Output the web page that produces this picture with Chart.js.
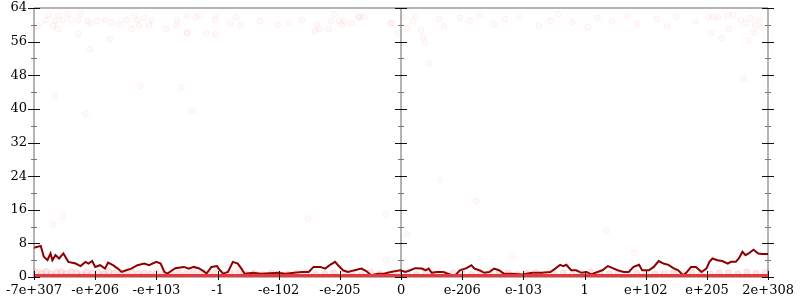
<!DOCTYPE html>
<html>
<head>
<meta charset="utf-8">
<script src="https://cdn.jsdelivr.net/npm/chart.js@4/dist/chart.umd.min.js"></script>
<style>
  html, body { margin: 0; padding: 0; background: #fff; }
</style>
</head>
<body>
<canvas id="chart" width="800" height="300"></canvas>
<script>
// x axis positions are tick slots 0..12, labelled with these
var xTickLabels = ['-7e+307', '-e+206', '-e+103', '-1', '-e-102', '-e-205', '0',
                   'e-206', 'e-103', '1', 'e+102', 'e+205', '2e+308']

// rolling line (dark red)
var lineX = [0,0.11,0.16,0.22,0.27,0.30,0.35,0.41,0.48,0.56,
  0.68,0.76,0.84,0.89,0.95,1.0,1.08,1.16,1.21,1.29,
  1.37,1.43,1.51,1.59,1.69,1.80,1.88,2.0,2.07,2.13,
  2.18,2.26,2.31,2.45,2.53,2.61,2.69,2.77,2.82,2.90,
  2.99,3.04,3.09,3.17,3.25,3.33,3.39,3.44,3.58,3.71,
  3.85,3.98,4.11,4.25,4.38,4.49,4.57,4.68,4.76,4.84,
  4.92,4.97,5.05,5.13,5.24,5.35,5.43,5.51,5.62,5.72,
  5.83,5.99,6.07,6.15,6.23,6.34,6.40,6.45,6.50,6.58,
  6.69,6.80,6.88,6.96,7.07,7.15,7.20,7.28,7.36,7.44,
  7.52,7.60,7.68,7.82,7.98,8.14,8.30,8.44,8.52,8.60,
  8.65,8.70,8.78,8.86,8.95,9.03,9.11,9.21,9.29,9.38,
  9.46,9.54,9.64,9.72,9.80,9.89,9.94,10.05,10.13,10.21,
  10.29,10.37,10.45,10.53,10.61,10.66,10.74,10.82,10.91,10.99,
  11.04,11.09,11.17,11.25,11.34,11.39,11.47,11.52,11.58,11.63,
  11.68,11.76,11.84,11.90,12.0]
var lineY = [6.95,7.4,4.8,4.0,5.6,4.0,5.2,4.4,5.6,3.6,
  3.2,2.6,3.6,3.2,3.8,2.4,2.8,2.0,3.4,2.8,
  2.0,1.2,1.6,2.0,2.8,3.2,2.8,3.6,3.2,1.2,
  0.8,1.6,2.1,2.4,2.0,2.4,2.1,1.4,0.8,2.4,
  2.6,1.6,0.8,1.2,3.6,3.2,2.0,0.8,1.0,0.8,
  0.9,1.0,0.8,1.0,1.2,1.2,2.4,2.4,2.0,2.9,
  3.6,2.8,1.6,1.2,1.6,2.0,1.4,0.4,0.8,0.8,
  1.2,1.6,1.2,1.6,2.1,2.0,1.6,2.0,1.0,1.2,
  1.2,0.6,0.3,1.6,2.1,2.8,2.0,1.6,1.0,1.2,
  2.0,1.6,0.8,0.8,0.6,1.0,1.0,1.2,2.0,2.9,
  2.6,2.9,1.6,1.6,1.0,1.2,0.6,1.2,1.6,2.6,
  2.1,1.6,1.2,1.2,2.4,2.9,1.6,1.6,2.4,3.8,
  3.2,2.9,2.1,1.6,0.4,1.0,2.4,2.4,1.2,2.0,
  3.6,4.4,4.0,3.8,3.2,3.6,3.6,4.4,6.0,5.2,
  5.6,6.5,5.6,5.5,5.5]

// faint points near the top
var topX = [0.24,0.40,0.55,0.19,0.35,0.47,0.60,0.72,0.76,0.87,1.03,0.92,1.16,1.27,1.40,1.51,1.64,1.69,1.80,1.93,
  1.88,1.72,1.59,0.31,0.39,0.72,1.24,0.06,2.34,2.50,2.64,2.71,2.98,2.96,3.30,3.21,3.37,3.69,3.98,4.17,
  4.38,4.62,4.66,4.59,4.82,4.86,4.91,4.99,5.07,5.19,5.32,5.40,5.83,2.50,2.82,2.96,2.16,2.32,5.03,2.50,
  5.30,5.85,6.04,6.23,6.19,6.10,5.96,6.33,6.36,6.39,6.62,6.70,
  6.96,7.12,7.28,7.52,7.70,7.93,8.25,8.45,8.57,8.80,9.05,9.21,9.45,9.70,9.86,10.18,10.35,10.50,10.82,
  11.02,11.10,11.18,11.34,11.42,11.55,11.63,11.71,11.79,11.87,11.90,11.07,11.24,11.36,11.68,11.76]
var topY = [62.3,62.3,62.6,61.1,60.9,61.1,61.1,61.1,62.6,60.9,60.9,60.4,61.1,60.6,60.2,61.1,62.3,61.1,61.6,61.1,
  59.9,59.9,59.0,59.7,59.0,57.8,56.6,59.7,61.1,62.1,61.8,62.3,62.3,61.1,61.8,60.4,59.9,60.9,59.9,60.4,
  61.1,60.2,59.0,58.5,59.0,60.9,62.6,60.9,60.9,60.4,61.8,61.8,60.4,58.0,58.0,57.8,59.0,59.9,59.9,58.2,
  61.8,60.4,61.8,62.3,60.9,59.0,58.0,58.7,57.0,55.8,61.4,59.7,
  61.6,61.0,62.4,60.2,61.4,62.0,59.8,61.0,62.6,60.6,59.4,61.6,60.8,62.2,60.2,61.4,59.6,62.0,60.8,
  61.8,61.8,61.8,62.3,62.3,61.1,60.4,61.6,59.9,61.1,59.4,58.0,56.8,59.0,56.3,58.2]

// scattered points in the middle
var midX = [0.92,0.34,1.74,2.40,0.84,2.58,0.31,0.47,4.48,5.75,5.75,7.23,6.10,7.81,9.36,9.81,6.46,11.60,6.64]
var midY = [54.2,43.1,45.5,45.1,38.8,39.5,12.5,14.4,13.9,14.9,4.1,18.0,10.1,4.8,11.0,5.8,50.8,47.2,23.2]

// dense band of points just above zero
var lowX = [0.03,0.12,0.2,0.28,0.37,0.45,0.52,0.61,0.7,0.78,0.86,0.95,1.05,1.14,1.22,1.31,1.42,1.5,1.6,1.7,
  1.8,1.9,2.0,2.12,2.25,2.36,2.48,2.6,2.72,2.85,2.97,3.1,3.22,3.35,3.48,3.6,3.74,3.88,4.0,4.15,
  4.3,4.45,4.6,4.75,4.9,5.05,5.2,5.35,5.5,5.65,5.8,5.95,6.1,6.25,6.4,6.55,6.7,6.85,7.0,7.15,
  7.3,7.45,7.6,7.75,7.9,8.05,8.2,8.35,8.5,8.65,8.8,8.95,9.1,9.25,9.4,9.55,9.7,9.85,10.0,10.15,
  10.3,10.45,10.6,10.75,10.9,11.05,11.2,11.35,11.5,11.65,11.8,11.95]
var lowY = [1.2,0.9,1.3,0.7,1.1,1.2,0.8,1.3,1.0,0.6,1.2,0.9,1.1,0.7,1.3,0.9,1.0,0.6,1.2,0.8,
  1.0,0.7,1.1,0.9,0.6,1.0,0.8,1.2,0.7,0.9,1.0,0.6,0.8,1.1,0.7,0.9,0.6,1.0,0.8,0.7,
  0.9,1.1,0.6,0.8,1.0,0.7,0.9,0.6,1.1,0.8,0.7,1.0,0.9,0.6,1.2,0.8,0.7,1.0,0.9,0.6,
  1.1,0.8,0.7,1.0,0.6,0.9,1.1,0.7,0.8,1.0,0.6,0.9,1.2,0.7,0.8,1.0,0.6,0.9,1.1,0.7,
  0.8,1.0,0.6,1.2,0.9,0.7,1.0,1.1,0.8,1.2,0.9,1.1]

var zeroLevel = 0
var serif = { family: 'DejaVu Serif', size: 13 }

function pairs(xs, ys) {
  return xs.map(function (x, i) { return { x: x, y: ys[i] } })
}

// axis lines, crossing ticks, middle axis at the "0" slot
var framePlugin = {
  id: 'frame',
  beforeDatasetsDraw: function (chart) {
    var ctx = chart.ctx, a = chart.chartArea
    var xs = chart.scales.x
    ctx.save()
    ctx.strokeStyle = '#b4b4b4'
    ctx.lineWidth = 2
    ctx.beginPath()
    ctx.moveTo(a.left, a.top); ctx.lineTo(a.right, a.top)
    ctx.moveTo(a.left, a.bottom); ctx.lineTo(a.right, a.bottom)
    ;[0, 6, 12].forEach(function (v) {
      var px = Math.round(xs.getPixelForValue(v))
      ctx.moveTo(px, a.top); ctx.lineTo(px, a.bottom)
    })
    ctx.stroke()
    ctx.restore()
  },
  afterDatasetsDraw: function (chart) {
    var ctx = chart.ctx, a = chart.chartArea
    var xs = chart.scales.x, ys = chart.scales.y
    ctx.save()
    ;[0, 6, 12].forEach(function (v) {
      var px = Math.round(xs.getPixelForValue(v))
      for (var t = 0; t <= 64; t += 4) {
        var py = Math.round(ys.getPixelForValue(t)) + 0.5
        var major = t % 8 === 0
        ctx.strokeStyle = major ? '#111' : '#777'
        ctx.lineWidth = 1
        ctx.beginPath()
        ctx.moveTo(px - (major ? 6 : 3), py)
        ctx.lineTo(px + (major ? 6 : 3), py)
        ctx.stroke()
      }
    })
    xTickLabels.forEach(function (_, i) {
      var px = Math.round(xs.getPixelForValue(i)) + 0.5
      ctx.strokeStyle = '#111'
      ctx.lineWidth = 1
      ctx.beginPath()
      ctx.moveTo(px, a.bottom - 6)
      ctx.lineTo(px, a.bottom + 3)
      ctx.stroke()
    })
    ctx.restore()
  }
}

new Chart('chart', {
  type: 'scatter',
  data: {
    datasets: [
      {
        data: pairs(topX, topY).concat(pairs(midX, midY)),
        pointRadius: 3,
        pointBackgroundColor: 'rgba(255, 60, 60, 0.03)',
        pointBorderColor: 'rgba(255, 60, 60, 0.055)',
        pointBorderWidth: 1
      },
      {
        data: pairs(lowX, lowY),
        pointRadius: 3,
        pointBackgroundColor: 'rgba(255, 60, 60, 0.12)',
        pointBorderColor: 'rgba(255, 60, 60, 0.12)',
        pointBorderWidth: 1
      },
      {
        type: 'line',
        data: [{ x: 0, y: zeroLevel }, { x: xTickLabels.length - 1, y: zeroLevel }],
        borderColor: '#e6393f',
        borderWidth: 6,
        pointRadius: 0,
        clip: 0
      },
      {
        type: 'line',
        data: pairs(lineX, lineY),
        borderColor: '#8b0000',
        borderWidth: 2,
        pointRadius: 0,
        tension: 0
      }
    ]
  },
  options: {
    responsive: false,
    animation: false,
    layout: { padding: { top: 8, right: 27, left: 0, bottom: 0 } },
    plugins: { legend: { display: false }, tooltip: { enabled: false } },
    scales: {
      x: {
        type: 'linear',
        min: 0,
        max: xTickLabels.length - 1,
        afterBuildTicks: function (s) {
          s.ticks = xTickLabels.map(function (_, i) { return { value: i } })
        },
        afterFit: function (s) { s.height = 23 },
        ticks: {
          autoSkip: false,
          maxRotation: 0,
          padding: 6,
          color: '#000',
          font: serif,
          callback: function (v, i) { return xTickLabels[i] }
        },
        grid: { display: false, drawTicks: false },
        border: { display: false }
      },
      y: {
        min: 0,
        max: 64,
        afterFit: function (s) {
          s.width = 28
          s.paddingTop = 0
          s.paddingBottom = 0
        },
        ticks: { stepSize: 8, padding: 7, color: '#000', font: serif },
        grid: { display: false, drawTicks: false },
        border: { display: false }
      }
    }
  },
  plugins: [framePlugin]
})
</script>
</body>
</html>
